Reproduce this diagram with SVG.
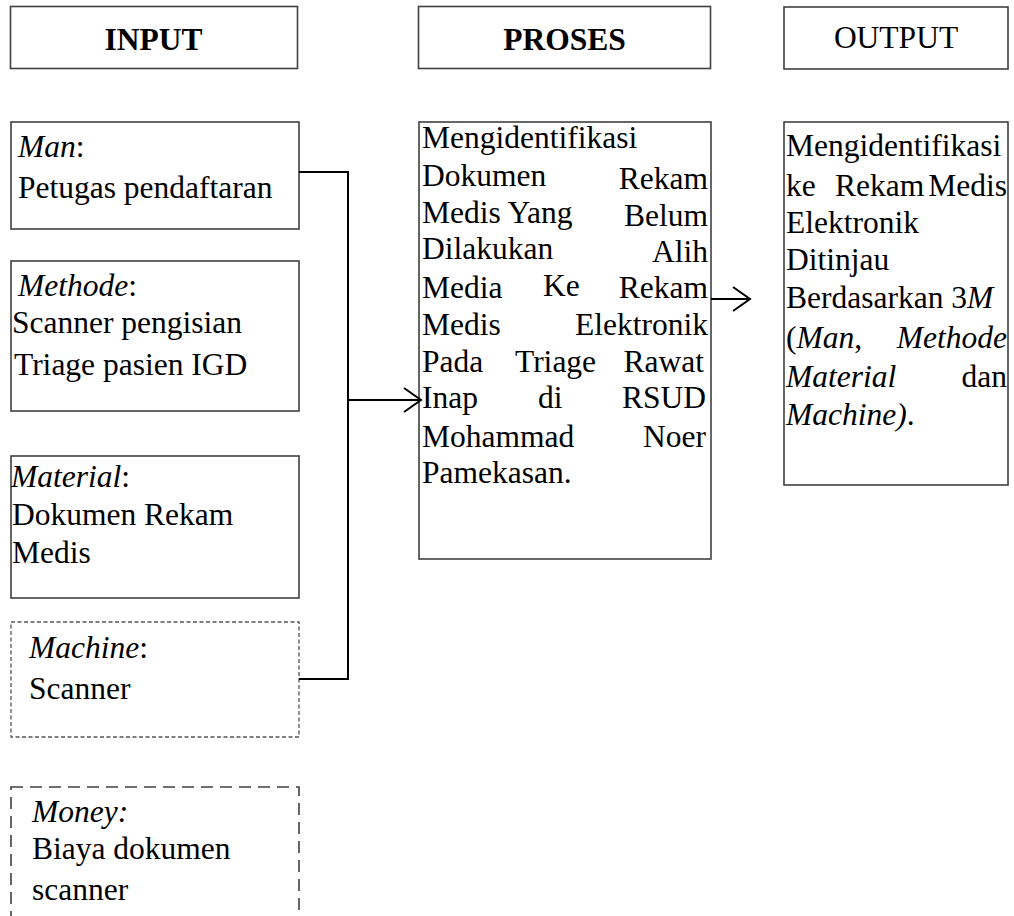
<svg xmlns="http://www.w3.org/2000/svg" width="1014" height="916" viewBox="0 0 1014 916">
<style>
text{font-family:"Liberation Serif","Times New Roman",serif;font-size:31.5px;fill:#000}
.b{font-weight:bold}
.i{font-style:italic}
.c{text-anchor:middle}
.e{text-anchor:end}
.box{fill:#fff;stroke:#404040;stroke-width:1.6}
.d1{fill:#fff;stroke:#555;stroke-width:1.3;stroke-dasharray:4 2.5}
.d2{fill:#fff;stroke:#404040;stroke-width:1.6;stroke-dasharray:12 7}
.ln{fill:none;stroke:#000;stroke-width:2}
</style>
<defs>
<marker id="arr" viewBox="0 0 20 26" refX="18" refY="13" markerWidth="20" markerHeight="26" markerUnits="userSpaceOnUse" orient="auto">
<path d="M1,1 L18,13 L1,25" fill="none" stroke="#000" stroke-width="2"/>
</marker>
</defs>
<rect width="1014" height="916" fill="#fff"/>

<g id="input-header">
<rect class="box" x="10.5" y="6.5" width="287" height="62"/>
<text class="b c" x="153.5" y="50">INPUT</text>
</g>
<g id="proses-header">
<rect class="box" x="418.5" y="6.5" width="292" height="62"/>
<text class="b c" x="564.5" y="50">PROSES</text>
</g>
<g id="output-header">
<rect class="box" x="784" y="7" width="224" height="62"/>
<text class="c" x="896" y="48">OUTPUT</text>
</g>

<g id="man">
<rect class="box" x="11" y="122" width="288" height="107"/>
<text x="18" y="157"><tspan class="i">Man</tspan>:</text>
<text x="18" y="198">Petugas pendaftaran</text>
</g>
<g id="methode">
<rect class="box" x="11" y="261" width="288" height="150"/>
<text x="18" y="296"><tspan class="i">Methode</tspan>:</text>
<text x="12" y="333">Scanner pengisian</text>
<text x="14" y="375">Triage pasien IGD</text>
</g>
<g id="material">
<rect class="box" x="11" y="456" width="288" height="142"/>
<text x="11" y="487"><tspan class="i">Material</tspan>:</text>
<text x="12" y="525">Dokumen Rekam</text>
<text x="12" y="563">Medis</text>
</g>
<g id="machine">
<rect class="d1" x="11" y="622" width="288" height="115"/>
<text x="29" y="658"><tspan class="i">Machine</tspan>:</text>
<text x="29" y="699">Scanner</text>
</g>
<g id="money">
<rect class="d2" x="11" y="787" width="288" height="160"/>
<text class="i" x="32" y="822">Money:</text>
<text x="32" y="859">Biaya dokumen</text>
<text x="32" y="900">scanner</text>
</g>

<g id="proses">
<rect class="box" x="419" y="122" width="292" height="437"/>
<text x="422" y="148">Mengidentifikasi</text>
<text x="422" y="186">Dokumen</text><text class="e" x="708" y="189">Rekam</text>
<text x="422" y="223">Medis Yang</text><text class="e" x="708" y="226">Belum</text>
<text x="422" y="259">Dilakukan</text><text class="e" x="708" y="262">Alih</text>
<text x="422" y="298">Media</text><text x="543" y="296">Ke</text><text class="e" x="708" y="298">Rekam</text>
<text x="422" y="335">Medis</text><text class="e" x="708" y="335">Elektronik</text>
<text x="422" y="372">Pada</text><text x="515" y="372">Triage</text><text class="e" x="704" y="372">Rawat</text>
<text x="422" y="408">Inap</text><text x="538" y="408">di</text><text class="e" x="706" y="408">RSUD</text>
<text x="422" y="447">Mohammad</text><text class="e" x="706" y="447">Noer</text>
<text x="422" y="483">Pamekasan.</text>
</g>

<g id="output">
<rect class="box" x="784" y="122" width="224" height="363"/>
<text x="786" y="156">Mengidentifikasi</text>
<text x="786" y="196">ke</text><text x="835" y="196">Rekam</text><text class="e" x="1007" y="196">Medis</text>
<text x="786" y="233">Elektronik</text>
<text x="786" y="270">Ditinjau</text>
<text x="786" y="308">Berdasarkan 3<tspan class="i">M</tspan></text>
<text x="786" y="348">(<tspan class="i">Man</tspan>,</text><text class="e i" x="1007" y="348">Methode</text>
<text class="i" x="786" y="387">Material</text><text class="e" x="1007" y="387">dan</text>
<text x="786" y="425"><tspan class="i">Machine)</tspan>.</text>
</g>

<g id="connectors">
<path class="ln" d="M299,172 H348 V679 H299"/>
<path class="ln" d="M348,400 H421" marker-end="url(#arr)"/>
<path class="ln" d="M711,299 H750" marker-end="url(#arr)"/>
</g>
</svg>
